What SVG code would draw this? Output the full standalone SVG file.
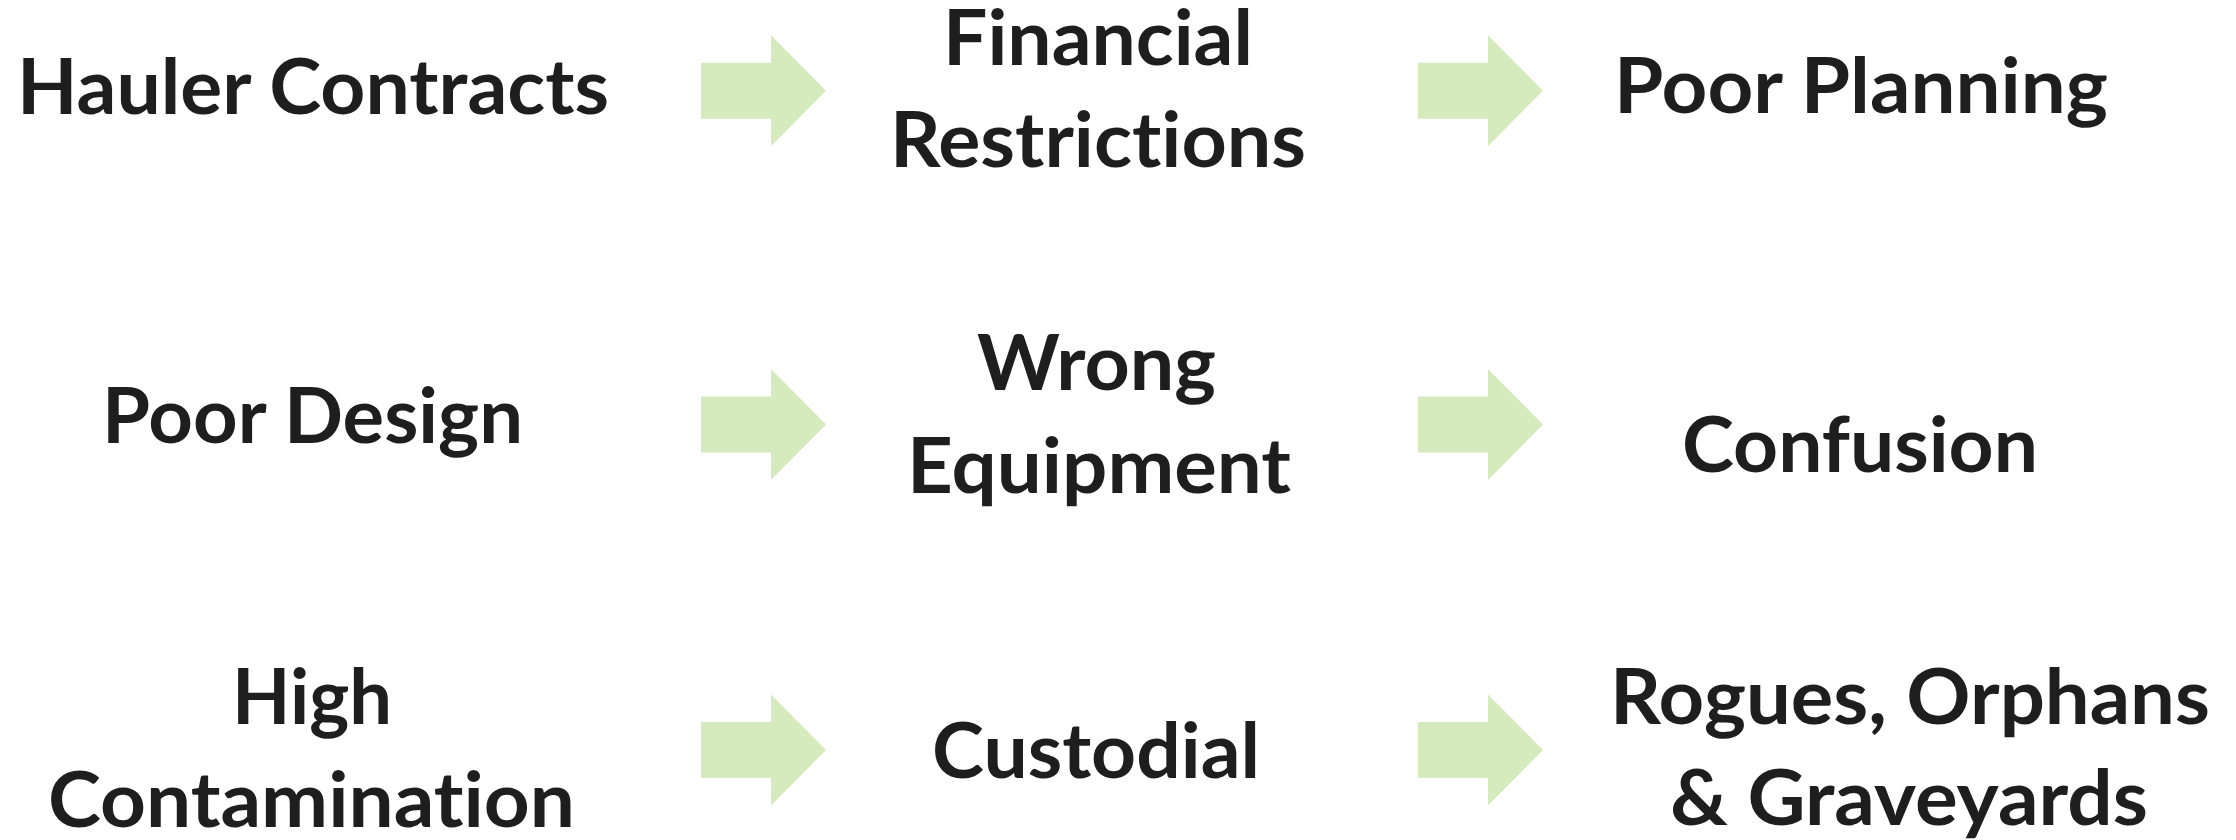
<svg xmlns="http://www.w3.org/2000/svg" xmlns:xlink="http://www.w3.org/1999/xlink" width="2236" height="840" viewBox="0 0 2236 840">
  <style>
    .lbl { font-family: Lato, "Open Sans", "Liberation Sans", sans-serif; font-weight: 700; font-size: 76px; fill: #1e1e1e; font-variant-ligatures: none; font-feature-settings: "liga" 0, "clig" 0; }
    .blk { fill: #d5ebbd; stroke: none; }
  </style>
  <defs>
    <path id="blockArrow" class="blk" d="M0,-28 L70,-28 L70,-55.5 L125,0 L70,55.5 L70,28 L0,28 Z"/>
  </defs>
  <rect width="2236" height="840" fill="#ffffff"/>
  <g id="connectors">
    <use xlink:href="#blockArrow" href="#blockArrow" transform="translate(701,90.7)"/>
    <use xlink:href="#blockArrow" href="#blockArrow" transform="translate(1418,90.7)"/>
    <use xlink:href="#blockArrow" href="#blockArrow" transform="translate(701,424.5)"/>
    <use xlink:href="#blockArrow" href="#blockArrow" transform="translate(1418,424.5)"/>
    <use xlink:href="#blockArrow" href="#blockArrow" transform="translate(701,750)"/>
    <use xlink:href="#blockArrow" href="#blockArrow" transform="translate(1418,750)"/>
  </g>
  <g id="hauler-contracts">
    <text class="lbl" x="17" y="113.5" textLength="592" lengthAdjust="spacingAndGlyphs">Hauler Contracts</text>
  </g>
  <g id="financial-restrictions">
    <text class="lbl" x="943" y="65" textLength="310" lengthAdjust="spacingAndGlyphs">Financial</text>
    <text class="lbl" x="890" y="167" textLength="416" lengthAdjust="spacingAndGlyphs">Restrictions</text>
  </g>
  <g id="poor-planning">
    <text class="lbl" x="1614" y="113.3" textLength="494" lengthAdjust="spacingAndGlyphs">Poor Planning</text>
  </g>
  <g id="poor-design">
    <text class="lbl" x="102" y="443.3" textLength="421" lengthAdjust="spacingAndGlyphs">Poor Design</text>
  </g>
  <g id="wrong-equipment">
    <text class="lbl" x="977" y="390" textLength="239" lengthAdjust="spacingAndGlyphs">Wrong</text>
    <text class="lbl" x="907" y="493" textLength="384" lengthAdjust="spacingAndGlyphs">Equipment</text>
  </g>
  <g id="confusion">
    <text class="lbl" x="1682" y="471.7" textLength="356" lengthAdjust="spacingAndGlyphs">Confusion</text>
  </g>
  <g id="high-contamination">
    <text class="lbl" x="232" y="724.3" textLength="160" lengthAdjust="spacingAndGlyphs">High</text>
    <text class="lbl" x="48" y="827" textLength="527" lengthAdjust="spacingAndGlyphs">Contamination</text>
  </g>
  <g id="custodial">
    <text class="lbl" x="932" y="778.3" textLength="328" lengthAdjust="spacingAndGlyphs">Custodial</text>
  </g>
  <g id="rogues-orphans-graveyards">
    <text class="lbl" x="1610" y="724" textLength="600" lengthAdjust="spacingAndGlyphs">Rogues, Orphans</text>
    <text class="lbl" x="1670" y="825" textLength="478" lengthAdjust="spacingAndGlyphs">&amp; Graveyards</text>
  </g>
</svg>
